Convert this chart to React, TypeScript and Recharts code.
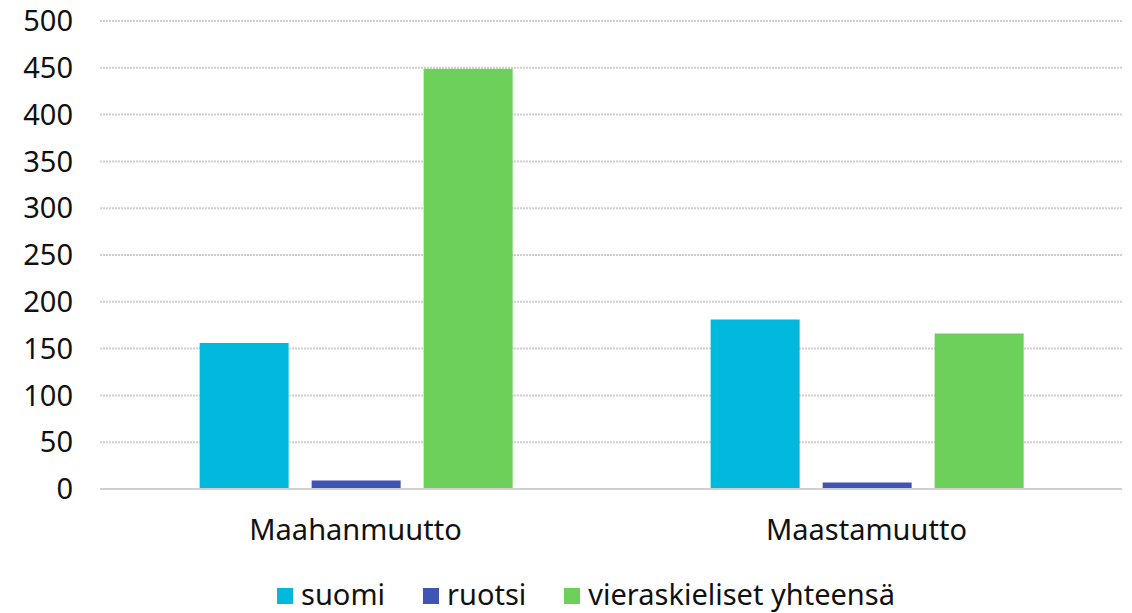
import { BarChart, Bar, XAxis, YAxis, CartesianGrid, Legend } from "recharts"

const categories = ["Maahanmuutto", "Maastamuutto"]
const suomi = [156, 181]
const ruotsi = [9, 7]
const vieraskieliset = [449, 166]
const yTicks = [0, 50, 100, 150, 200, 250, 300, 350, 400, 450, 500]

const series = [
  { key: "suomi", name: "suomi", color: "#00B9DC" },
  { key: "ruotsi", name: "ruotsi", color: "#3F55B6" },
  { key: "vieraskieliset", name: "vieraskieliset yhteensä", color: "#6CD05A" },
]

const data = categories.map((name, i) => ({
  name,
  suomi: suomi[i],
  ruotsi: ruotsi[i],
  vieraskieliset: vieraskieliset[i],
}))

const font = "'Noto Sans', 'Open Sans', sans-serif"

function LegendContent() {
  return (
    <div
      style={{
        boxSizing: "border-box",
        height: 40,
        paddingTop: 2,
        display: "flex",
        justifyContent: "center",
        alignItems: "center",
        fontFamily: font,
        fontSize: 29,
        color: "#111",
        paddingLeft: 88,
      }}
    >
      {series.map((s) => (
        <div key={s.key} style={{ display: "flex", alignItems: "center", marginRight: 38, lineHeight: "30px" }}>
          <span
            style={{
              display: "inline-block",
              width: 16,
              height: 16,
              background: s.color,
              marginRight: 8,
              marginTop: 4,
            }}
          />
          <span>{s.name}</span>
        </div>
      ))}
    </div>
  )
}

export default function App() {
  return (
    <div style={{ position: "absolute", left: 0, top: 0, background: "#fff" }}>
      <BarChart
        width={1132}
        height={613}
        data={data}
        margin={{ top: 21, right: 10, bottom: 0, left: 0 }}
        barCategoryGap="19.5%"
        barGap={23}
      >
        <CartesianGrid
          vertical={false}
          stroke="#cfcfcf"
          strokeWidth={2}
          strokeDasharray="2 1"
        />
        <XAxis
          dataKey="name"
          axisLine={{ stroke: "#d0d0d0", strokeWidth: 2 }}
          tickLine={false}
          tickSize={0}
          tickMargin={30}
          height={84}
          tick={{ fill: "#111", fontSize: 29, fontFamily: font }}
        />
        <YAxis
          domain={[0, 500]}
          ticks={yTicks}
          interval={0}
          width={100}
          axisLine={false}
          tickLine={false}
          tickSize={0}
          tickMargin={27}
          tick={{ fill: "#111", fontSize: 29, fontFamily: font }}
        />
        <Legend verticalAlign="bottom" height={40} content={<LegendContent />} />
        {series.map((s) => (
          <Bar
            key={s.key}
            dataKey={s.key}
            name={s.name}
            fill={s.color}
            isAnimationActive={false}
          />
        ))}
      </BarChart>
    </div>
  )
}
